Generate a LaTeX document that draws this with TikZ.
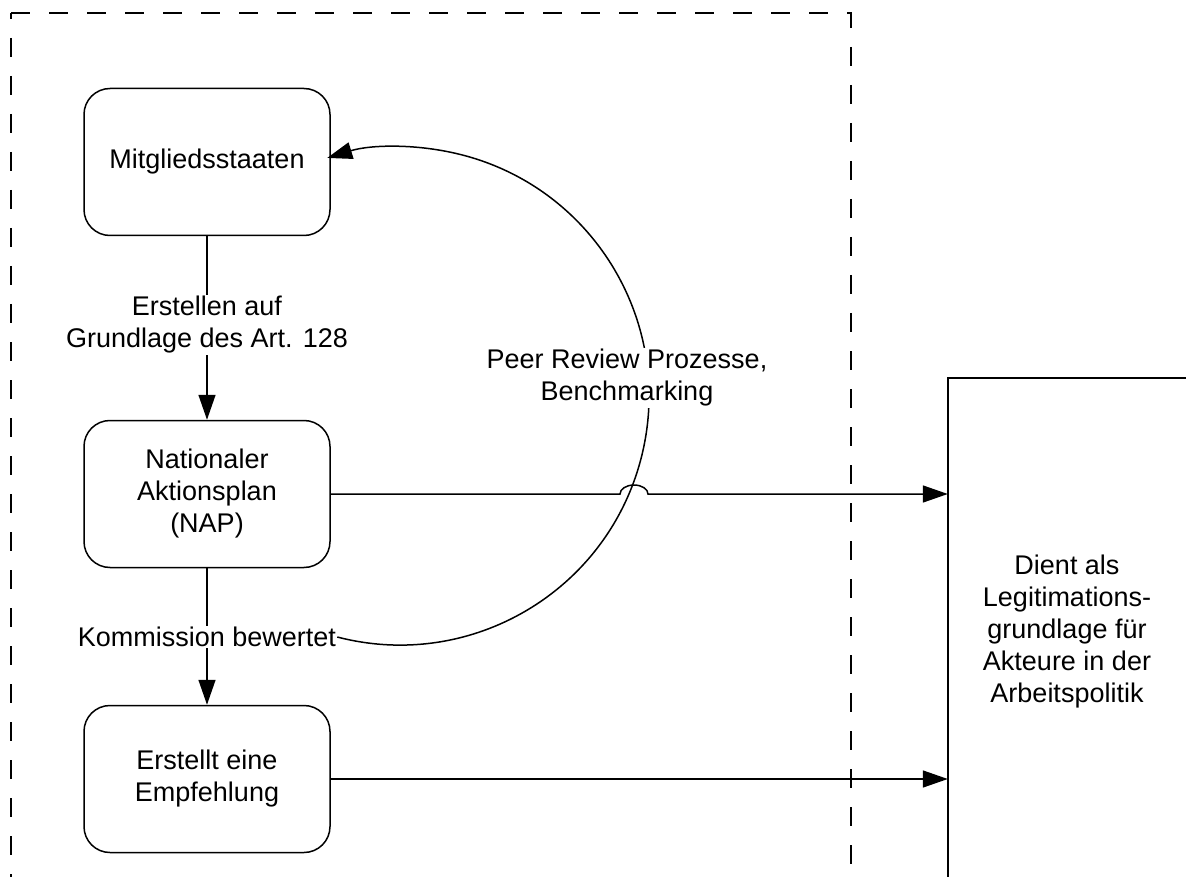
\documentclass[tikz,border=0pt]{standalone}
\usepackage{fontspec}
\setmainfont{Liberation Sans}
\usetikzlibrary{arrows.meta}
\pgfdeclarelayer{bg}
\pgfsetlayers{bg,main}
\begin{document}
\begin{tikzpicture}[x=1pt,y=-1pt,
  every node/.style={font=\fontsize{27}{32}\selectfont},
  box/.style={draw, line width=1.5pt, rounded corners=26pt, minimum width=246pt, minimum height=147pt, align=center, inner sep=0pt},
  lbl/.style={fill=white, align=center, inner sep=1pt},
  conn/.style={line width=1.5pt, -{Triangle[length=25pt,width=17pt]}},
  frame/.style={line width=1.4pt, dash pattern=on 19pt off 19pt}
]
\useasboundingbox (0,0) rectangle (1186,877);
\clip (0,0) rectangle (1186,877);

% nodes
\node[box] (ms) at (207,162) {Mitgliedsstaaten};
\node[box] (nap) at (207,494) {Nationaler\\Aktionsplan\\(NAP)};
\node[box] (emp) at (207,779) {Erstellt eine\\Empfehlung};
\node[align=center, minimum width=238pt, minimum height=508pt, inner sep=0pt] (rb) at (1067,632)
  {Dient als\\Legitimations-\\grundlage für\\Akteure in der\\Arbeitspolitik};
\draw[line width=1.6pt] ([yshift=-30pt]rb.south west) -- (rb.north west) -- ([xshift=30pt]rb.north east);

\node[lbl] (l1) at (207,325) {Erstellen auf\\Grundlage des Art. 128};
\node[lbl] (kom) at (207,637) {Kommission bewertet};
\node[lbl] (pr) at (627,378) {Peer Review Prozesse,\\Benchmarking};

% dashed frame
\coordinate (ftl) at (11,13);
\coordinate (ftr) at (851,13);
\coordinate (fbl) at (11,900);
\coordinate (fbr) at (851,900);
\draw[frame] (ftl) -- (ftr) -- (fbr);
\draw[frame, dash phase=13pt] (ftl) -- (fbl);

\begin{pgfonlayer}{bg}
\fill[white] (0,0) rectangle (1186,877);
\draw[conn] (ms.south) -- (nap.north);
\draw[conn] (nap.south) -- (emp.north);
\coordinate (hopL) at (620,494);
\draw[conn] (nap.east) -- (hopL) arc[start angle=180, end angle=0, x radius=14pt, y radius=9pt] -- (nap.east -| rb.west);
\draw[conn] (emp.east) -- (emp.east -| rb.west);
\draw[conn] (kom.east) arc[start angle=-104.6, end angle=107, radius=249pt];
\end{pgfonlayer}
\end{tikzpicture}
\end{document}
